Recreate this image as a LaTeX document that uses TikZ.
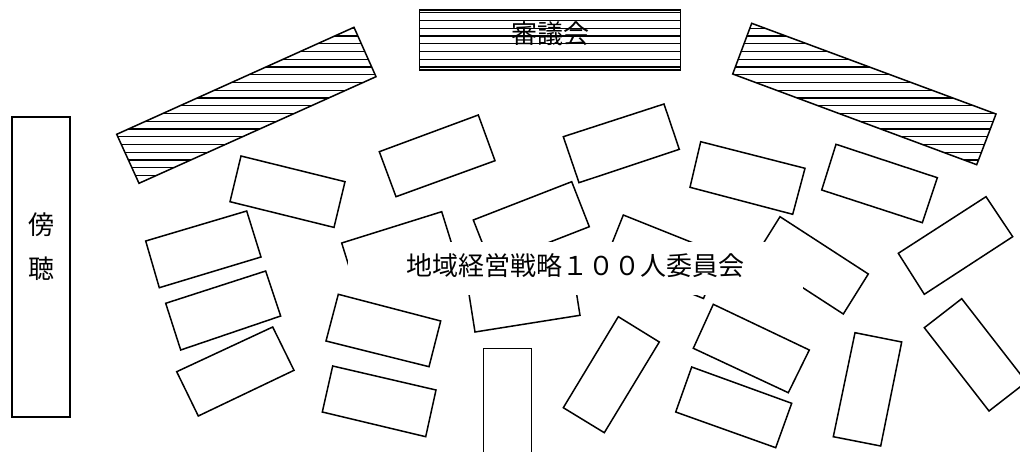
\documentclass[tikz,border=0pt]{standalone}
\usepackage{fontspec}
\newfontfamily\jpfont{Noto Sans CJK JP}
\tikzset{
  seat/.style={draw=black, line width=1.5pt, line join=miter},
  hatchline/.style={draw=black, line width=1.2pt},
  label/.style={font=\jpfont\fontsize{26}{30}\selectfont, inner sep=0pt},
}
\newcommand\hatchfill[1]{%
  \begin{scope}
    \clip #1;
    \foreach \yy in {12.7,20.45,...,200} \draw[hatchline] (0,\yy) -- (1020,\yy);
  \end{scope}
  \draw[seat] #1;
}
\begin{document}
\begin{tikzpicture}[x=1pt,y=-1pt]
\useasboundingbox (0,0) rectangle (1020,452);
\clip (0,0) rectangle (1020,452);
\fill[white] (0,0) rectangle (1020,452);

% council tables (hatched)
\hatchfill{(419.3,10) -- (680.7,10) -- (680.7,70) -- (419.3,70) -- cycle}
\node[label] (shingikai) at (550,34) {審議会};
\hatchfill{(116.7,134.3) -- (354,27.3) -- (376,76.7) -- (139,183.3) -- cycle}
\hatchfill{(751.7,23.3) -- (996,114) -- (976.7,164.7) -- (732.7,74) -- cycle}

% audience
\draw[seat] (12,117) rectangle (70,417);
\node[label] (bo) at (41,225) {傍};
\node[label] (cho) at (41,269) {聴};

% committee seats
\draw[seat] (379.3,151.7) -- (478.3,115) -- (495,160.7) -- (396,196.7) -- cycle;   % A
\draw[seat] (241,156) -- (345,181.7) -- (334,227.4) -- (230,201.7) -- cycle;       % B
\draw[seat] (563.3,136.7) -- (664,104) -- (679.3,149.3) -- (579,182.7) -- cycle;   % C
\draw[seat] (700.7,141.7) -- (805,168.3) -- (792.7,214.3) -- (690,187.3) -- cycle; % D
\draw[seat] (836,144.3) -- (937.3,177.7) -- (922.3,222.7) -- (821.7,190) -- cycle; % E
\draw[seat] (898.3,253.3) -- (986,196.7) -- (1012.7,236.7) -- (924.3,294.3) -- cycle; % F
\draw[seat] (473.3,220) -- (571.7,181.7) -- (589.3,226.7) -- (491,265) -- cycle;   % G
\draw[seat] (341.7,243) -- (441.7,211.7) -- (456,257.6) -- (356,289) -- cycle;     % H
\draw[seat] (338.3,294.3) -- (440.7,321) -- (429,366.7) -- (326,341) -- cycle;     % I
\draw[seat] (332.7,366) -- (436,390) -- (425.7,436.7) -- (322.3,412) -- cycle;     % J
\draw[seat] (145.7,241) -- (246.7,211) -- (261,257) -- (159.3,287.7) -- cycle;     % K1
\draw[seat] (165.7,303.3) -- (265.7,271) -- (280.7,316) -- (180.7,350) -- cycle;   % K2
\draw[seat] (176.7,371.7) -- (272.7,327) -- (294,370.3) -- (198.3,416) -- cycle;   % K3
\draw[seat] (483.3,348.7) -- (531.7,348.7) -- (531.7,470) -- (483.3,470) -- cycle; % L
\draw[seat] (467.5,284.6) -- (572.5,268) -- (580,315.3) -- (475,332) -- cycle;     % M
\draw[seat] (623.3,215) -- (721.1,254.1) -- (703.5,298.5) -- (605.6,259.3) -- cycle; % N
\draw[seat] (780,216.7) -- (868.3,274) -- (843.3,314) -- (755,256.7) -- cycle;     % O
\draw[seat] (618.3,316.7) -- (659.3,342) -- (604.3,432.7) -- (563.3,407.7) -- cycle; % P
\draw[seat] (713.3,304.3) -- (809.3,350) -- (788.3,392.7) -- (693.3,348.3) -- cycle; % Q
\draw[seat] (691.7,367) -- (791.7,403.3) -- (775.7,447.7) -- (675.7,412) -- cycle; % R
\draw[seat] (855,332.7) -- (901.7,342) -- (880.7,446) -- (833.3,436.7) -- cycle;   % S
\draw[seat] (961.7,298.7) -- (1026.4,382) -- (989,411) -- (924.3,327.7) -- cycle;  % T

% title over the seats
\fill[white] (348,242) rectangle (803,295);
\node[label] (title) at (575.5,266) {地域経営戦略１００人委員会};
\end{tikzpicture}
\end{document}
